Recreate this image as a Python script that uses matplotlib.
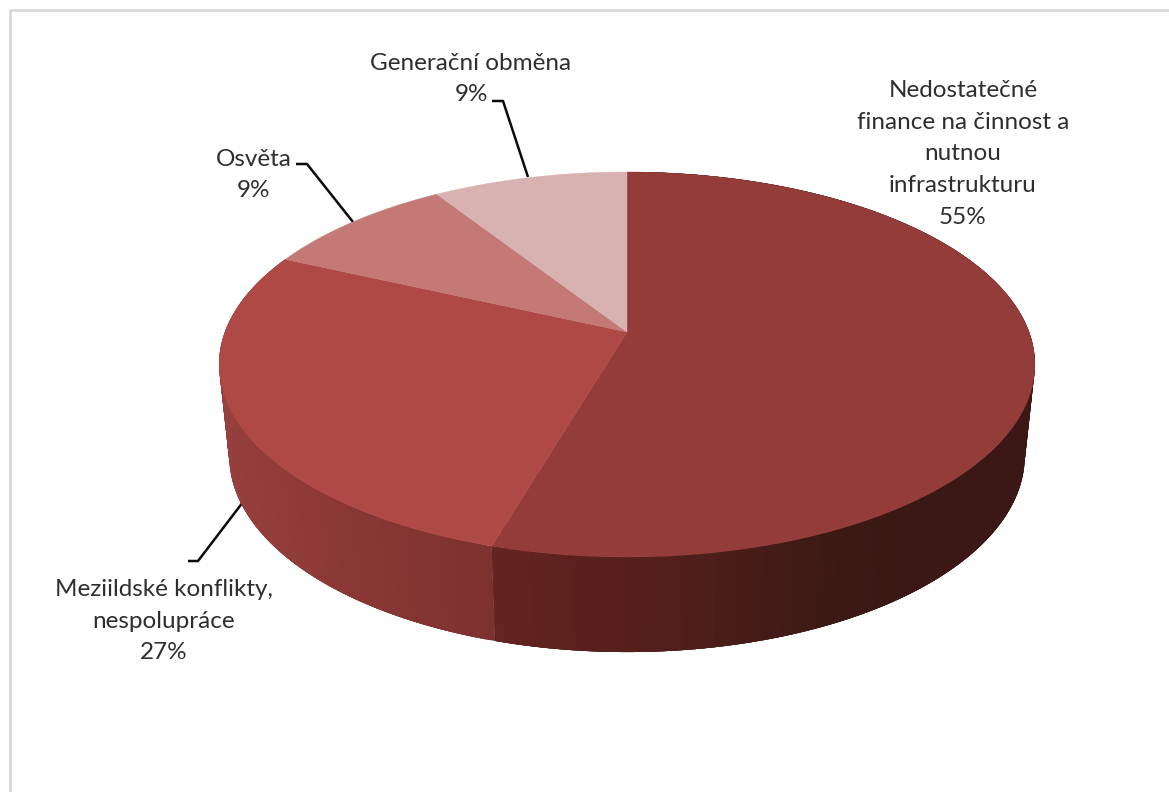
import numpy as np
import matplotlib
matplotlib.use("Agg")
import matplotlib.pyplot as plt
from matplotlib.patches import Polygon

# Data
categories = ["Nedostatečné\nfinance na činnost a\nnutnou\ninfrastrukturu",
              "Meziildské konflikty,\nnespolupráce",
              "Osvěta",
              "Generační obměna"]
values = [54.55, 27.27, 9.09, 9.09]

# Styles
top_colors = ["#943C3A", "#AF4946", "#C47977", "#D8B1B1"]
side_stops = {0: ([495, 600, 700, 800, 900], ["#642421", "#5A201D", "#4E1E1B", "#3F1A17", "#3B1815"]),
              1: ([225, 350, 495], ["#97403D", "#8A3835", "#7C3230"])}
label_centres = [(963, 154), (164, 621), (254, 175), (471, 79)]
leaders = [None,
           [(188, 561), (198, 561), (243, 502)],
           [(296, 164), (307, 164), (353, 222)],
           [(492, 101), (503, 101), (528, 177)]]

CX = 627.0
P = 0.1688
TOP = dict(ya=332.0, Kx=402.0, Ky=187.0)
BOT = dict(ya=423.0, Kx=392.0, Ky=190.4)


def project(theta, d):
    """Perspective view of a unit circle, theta clockwise from 12 o'clock."""
    x, y = np.sin(theta), np.cos(theta)
    w = 1 + P * y
    return CX + d["Kx"] * x / w, d["ya"] - d["Ky"] * y / w


def hex2rgb(c):
    return np.array(matplotlib.colors.to_rgb(c))


def side_color(px, stops):
    xs, cols = stops
    rgb = np.array([hex2rgb(c) for c in cols])
    return tuple(np.interp(px, xs, rgb[:, i]) for i in range(3))


fig = plt.figure(figsize=(11.69, 7.92), dpi=100)
ax = fig.add_axes([0, 0, 1, 1])
ax.set_xlim(0, 1169)
ax.set_ylim(792, 0)
ax.axis("off")

# Chart frame
frame_lw = 1.9
ax.plot([9.5, 9.5, 1169], [792, 10, 10], color="#D9D9D9", lw=frame_lw,
        solid_joinstyle="miter", zorder=1)

edges = np.concatenate([[0], np.cumsum(values)]) / sum(values) * 2 * np.pi

# Leaders lie below the pie
for pts in leaders:
    if pts:
        ax.plot(*zip(*pts), color="#0A0A0A", lw=1.8, zorder=2, solid_capstyle="butt")

# Side walls: overlapping strips painted in order, so no seams show
for i in (0, 1):
    th = np.linspace(edges[i], edges[i + 1], 161)
    xt, yt = project(th, TOP)
    xb, yb = project(th, BOT)
    for j in range(len(th) - 1):
        end = min(j + 4, len(th) - 1)
        quad = np.column_stack([np.r_[xt[j:end + 1], xb[j:end + 1][::-1]],
                                np.r_[yt[j:end + 1], yb[j:end + 1][::-1]]])
        col = side_color((xb[j] + xb[j + 1]) / 2, side_stops[i])
        ax.add_patch(Polygon(quad, closed=True, facecolor=col, edgecolor="none", lw=0, zorder=3))

# Top faces
for i, col in enumerate(top_colors):
    th = np.linspace(edges[i], edges[i + 1], 200)
    xt, yt = project(th, TOP)
    pts = np.vstack([[CX, TOP["ya"]], np.column_stack([xt, yt])])
    ax.add_patch(Polygon(pts, closed=True, facecolor=col, edgecolor=col, lw=0.3, zorder=4))

# Labels
for name, v, (lx, ly) in zip(categories, values, label_centres):
    ax.text(lx, ly, f"{name}\n{round(v)}%", ha="center", va="center", ma="center",
            family="Lato", fontsize=17.5, color="#2E2E2E", linespacing=1.62, zorder=5)

fig.savefig("out.png", dpi=100)
